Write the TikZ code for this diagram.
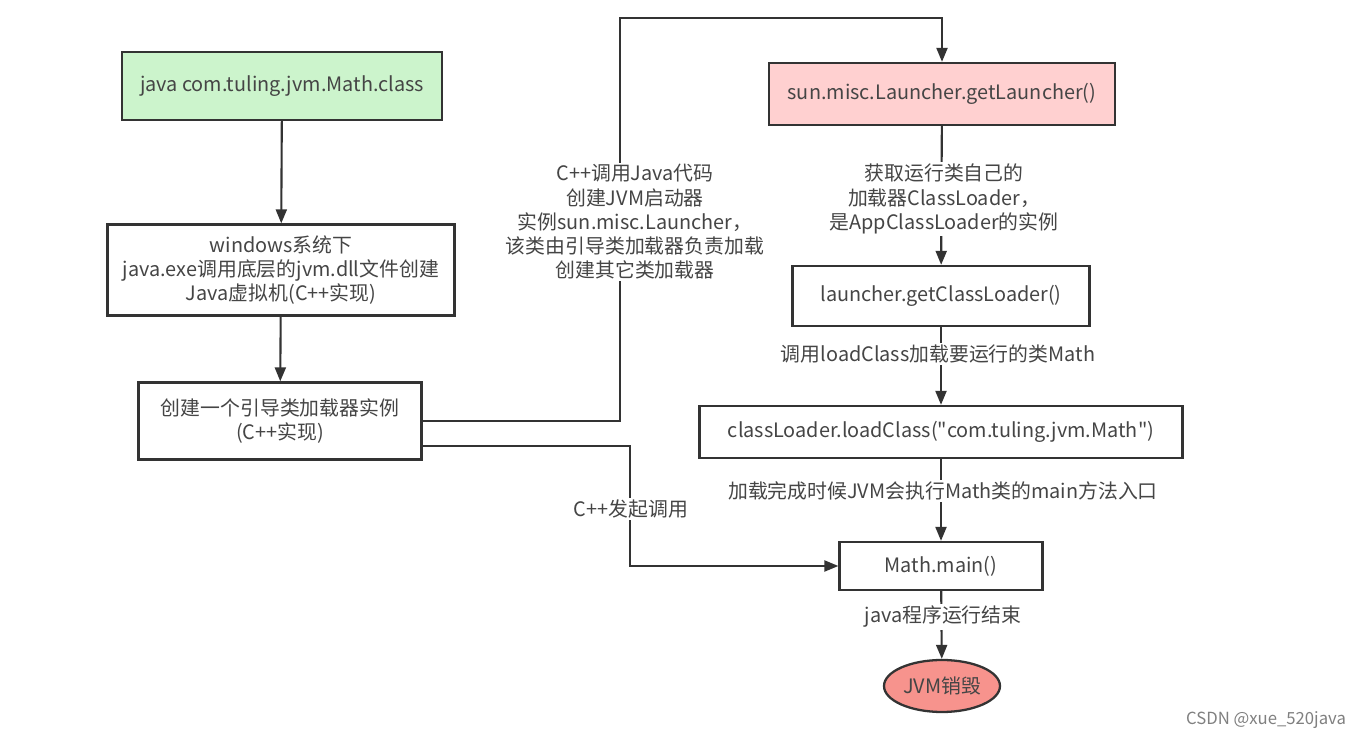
\documentclass[tikz,border=0pt]{standalone}
\usepackage{fontspec}
\setmainfont{Noto Sans CJK SC}
\usepackage{tikz}
\usetikzlibrary{arrows.meta,shapes,positioning,calc}
\usepackage{xcolor}

\definecolor{linegray}{HTML}{333333}
\definecolor{txtgray}{HTML}{454545}
\definecolor{startgreen}{HTML}{CCF4CC}
\definecolor{launchpink}{HTML}{FFD0D0}
\definecolor{endred}{HTML}{F7938D}

\tikzset{
    box/.style={draw=linegray, line width=1.3pt, rectangle, align=center,
        text=txtgray, font=\fontsize{11.3}{13.8}\selectfont, inner sep=2pt},
    endball/.style={draw=linegray, line width=1.3pt, ellipse, align=center,
        text=txtgray, fill=endred, font=\fontsize{11.3}{13.8}\selectfont, inner sep=0pt},
    flow/.style={draw=linegray, line width=1.2pt, -{Triangle[length=0.28cm,width=0.22cm]}},
    tag/.style={fill=white, text=txtgray, align=center,
        font=\fontsize{11.3}{13.8}\selectfont, inner sep=1pt}
}

\begin{document}
\begin{tikzpicture}[x=0.02cm, y=-0.02cm]
    \useasboundingbox[fill=white] (0,0) rectangle (1357,739);

    % left column
    \node[box, fill=startgreen, minimum width=6.4cm, minimum height=1.36cm] (start) at (282,86) {java com.tuling.jvm.Math.class};
    \node[box, minimum width=6.94cm, minimum height=1.82cm] (win) at (281,270) {windows系统下\\java.exe调用底层的jvm.dll文件创建\\Java虚拟机(C++实现)};
    \node[box, minimum width=5.66cm, minimum height=1.54cm] (boot) at (280,421) {创建一个引导类加载器实例\\(C++实现)};

    % right column
    \node[box, fill=launchpink, minimum width=6.92cm, minimum height=1.24cm] (launch) at (942,94) {sun.misc.Launcher.getLauncher()};
    \node[box, minimum width=5.94cm, minimum height=1.2cm] (getcl) at (941,296) {launcher.getClassLoader()};
    \node[box, minimum width=9.66cm, minimum height=1.04cm] (load) at (941,432) {classLoader.loadClass(\textquotedbl com.tuling.jvm.Math\textquotedbl)};
    \node[box, minimum width=4.06cm, minimum height=0.96cm] (main) at (941,566) {Math.main()};
    \node[endball, minimum width=2.32cm, minimum height=1.04cm] (jvmend) at (942,686) {JVM销毁};

    % corner points
    \coordinate (top) at (620,18);
    \coordinate (bend) at (630,566);

    % connectors
    \draw[flow] (start) -- (win);
    \draw[flow] (win) -- (boot);
    \draw[flow] (boot.east) -| (top) -| (launch.north);
    \draw[flow] ([yshift=-0.5cm]boot.east) -| (bend) -- (main.west);
    \draw[flow] (launch) -- (getcl);
    \draw[flow] (getcl) -- (load);
    \draw[flow] (load) -- (main);
    \draw[flow] (main) -- (jvmend);

    % labels on connectors
    \node[tag] (lbl1) at (635,222) {C++调用Java代码\\创建JVM启动器\\实例sun.misc.Launcher，\\该类由引导类加载器负责加载\\创建其它类加载器};
    \node[tag] (lbl2) at (631,509) {C++发起调用};
    \node[tag] (lbl3) at (944,199) {获取运行类自己的\\加载器ClassLoader，\\是AppClassLoader的实例};
    \node[tag] (lbl4) at (938,354) {调用loadClass加载要运行的类Math};
    \node[tag] (lbl5) at (943,491) {加载完成时候JVM会执行Math类的main方法入口};
    \node[tag] (lbl6) at (943,617) {java程序运行结束};

    \node[text=gray, font=\fontsize{9.5}{11}\selectfont] (mark) at (1266,720) {CSDN @xue\_520java};
\end{tikzpicture}
\end{document}
